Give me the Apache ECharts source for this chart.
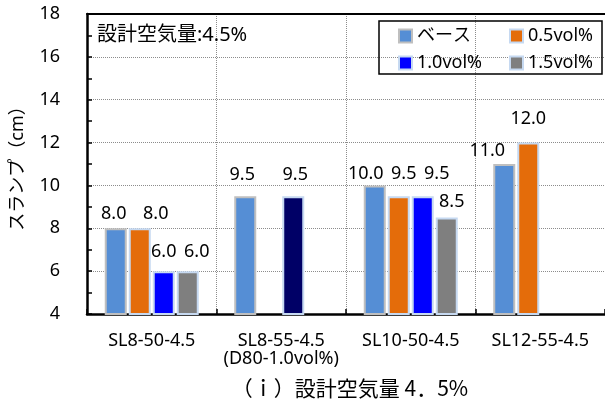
<!DOCTYPE html>
<html>
<head>
<meta charset="utf-8">
<script src="https://cdn.jsdelivr.net/npm/echarts@6/dist/echarts.min.js"></script>
<style>
  html, body { margin: 0; padding: 0; background: #fff; }
  #chart { width: 605px; height: 405px; }
</style>
</head>
<body>
<div id="chart"></div>
<script>
// Slump test results, design air content 4.5%
const categories = ['SL8-50-4.5', 'SL8-55-4.5\n(D80-1.0vol%)', 'SL10-50-4.5', 'SL12-55-4.5'];
const seriesNames = ['ベース', '0.5vol%', '1.0vol%', '1.5vol%'];
const baseValues  = [8.0, 9.5, 10.0, 11.0];
const vol05Values = [8.0, null, 9.5, 12.0];
const vol10Values = [6.0, 9.5, 9.5, null];
const vol15Values = [6.0, null, 8.5, null];
const yTicks = [4, 6, 8, 10, 12, 14, 16, 18];

// presentation
const FONT = '"Noto Sans", "Noto Sans CJK JP", sans-serif';
const colors = ['#558ED5', '#E46C0A', '#0000FF', '#7F7F7F'];
const borderColors = ['#BFBFBF', '#C6D9F1', '#C6D9F1', '#C6D9F1'];
// the D80 specimen in the 1.0vol% series is drawn in navy
const itemColorOverride = { '2-1': '#000066' };
// hand-placed value labels [dx, dy]
const labelOffsets = {
  '0-0': [-2, 0], '0-1': [-3, -7], '0-2': [-9, 2], '0-3': [-17, 1],
  '1-0': [16, 0], '1-2': [5, -8], '1-3': [0, -10],
  '2-0': [0, -5], '2-1': [2, -7], '2-2': [14, -8],
  '3-0': [9, -5], '3-2': [5, -2]
};

const valueSets = [baseValues, vol05Values, vol10Values, vol15Values];

const series = valueSets.map((vals, si) => ({
  name: seriesNames[si],
  type: 'bar',
  barWidth: 22,
  barGap: '9.09%',
  itemStyle: { color: colors[si], borderColor: borderColors[si], borderWidth: 2 },
  label: {
    show: true,
    position: 'top',
    distance: 5,
    color: '#000',
    fontSize: 18,
    fontFamily: FONT,
    formatter: p => p.value == null ? '' : Number(p.value).toFixed(1)
  },
  data: vals.map((v, di) => {
    const key = si + '-' + di;
    const item = { value: v };
    if (labelOffsets[key]) item.label = { offset: labelOffsets[key] };
    if (itemColorOverride[key]) item.itemStyle = { color: itemColorOverride[key] };
    return item;
  })
}));

const chart = echarts.init(document.getElementById('chart'), null, { renderer: 'canvas' });

const legendCommon = {
  orient: 'vertical',
  top: 22,
  itemWidth: 13,
  itemHeight: 13,
  itemGap: 9,
  icon: 'rect',
  textStyle: { fontSize: 18, fontFamily: FONT, color: '#000', lineHeight: 18 },
  selectedMode: false
};

chart.setOption({
  animation: false,
  backgroundColor: '#fff',
  grid: { left: 87, top: 14, width: 522, height: 300, containLabel: false },
  legend: [
    Object.assign({}, legendCommon, { left: 393, data: ['ベース', '1.0vol%'] }),
    Object.assign({}, legendCommon, { left: 504, data: ['0.5vol%', '1.5vol%'] })
  ],
  xAxis: [
    {
      type: 'category',
      data: categories,
      position: 'bottom',
      axisLine: { lineStyle: { color: '#000', width: 2.5 } },
      axisTick: { show: true, inside: true, length: 5, interval: 0, lineStyle: { color: '#000', width: 1.5 } },
      axisLabel: { interval: 0, color: '#000', fontSize: 18, fontFamily: FONT, margin: 18, lineHeight: 18 },
      splitLine: { show: true, interval: 0, lineStyle: { color: '#8C8C8C', type: [1, 1], width: 1 } }
    },
    {
      type: 'category',
      data: categories,
      position: 'top',
      axisLine: { show: true, lineStyle: { color: '#000', width: 2 } },
      axisTick: { show: false },
      axisLabel: { show: false },
      splitLine: { show: false }
    }
  ],
  yAxis: {
    type: 'value',
    min: yTicks[0],
    max: yTicks[yTicks.length - 1],
    interval: 2,
    name: 'スランプ（cm）',
    nameLocation: 'middle',
    nameGap: 60,
    nameRotate: 90,
    nameTextStyle: { color: '#000', fontSize: 18, fontFamily: FONT },
    axisLine: { show: true, lineStyle: { color: '#000', width: 2.5 } },
    axisTick: { show: true, inside: true, length: 5, lineStyle: { color: '#000', width: 1.5 } },
    minorTick: { show: true, splitNumber: 2, length: 5, lineStyle: { color: '#000', width: 1.5 } },
    axisLabel: { color: '#000', fontSize: 18, fontFamily: FONT, margin: 27 },
    splitLine: { show: true, lineStyle: { color: '#8C8C8C', type: [1, 1], width: 1 } }
  },
  series: series,
  graphic: [
    {
      type: 'rect',
      shape: { x: 379, y: 21, width: 223, height: 53 },
      style: { fill: 'rgba(0,0,0,0)', stroke: '#000', lineWidth: 1.5 },
      z: 100
    },
    {
      type: 'text',
      x: 97, y: 35,
      style: { text: '設計空気量:4.5%', font: '20px ' + FONT, fill: '#000', verticalAlign: 'middle' },
      z: 100
    },
    {
      type: 'text',
      x: 350, y: 388,
      style: { text: '（ｉ）設計空気量 4．5%', font: '21px "Noto Sans CJK JP", sans-serif', fill: '#000', align: 'center', verticalAlign: 'middle' },
      z: 100
    }
  ]
});
</script>
</body>
</html>
